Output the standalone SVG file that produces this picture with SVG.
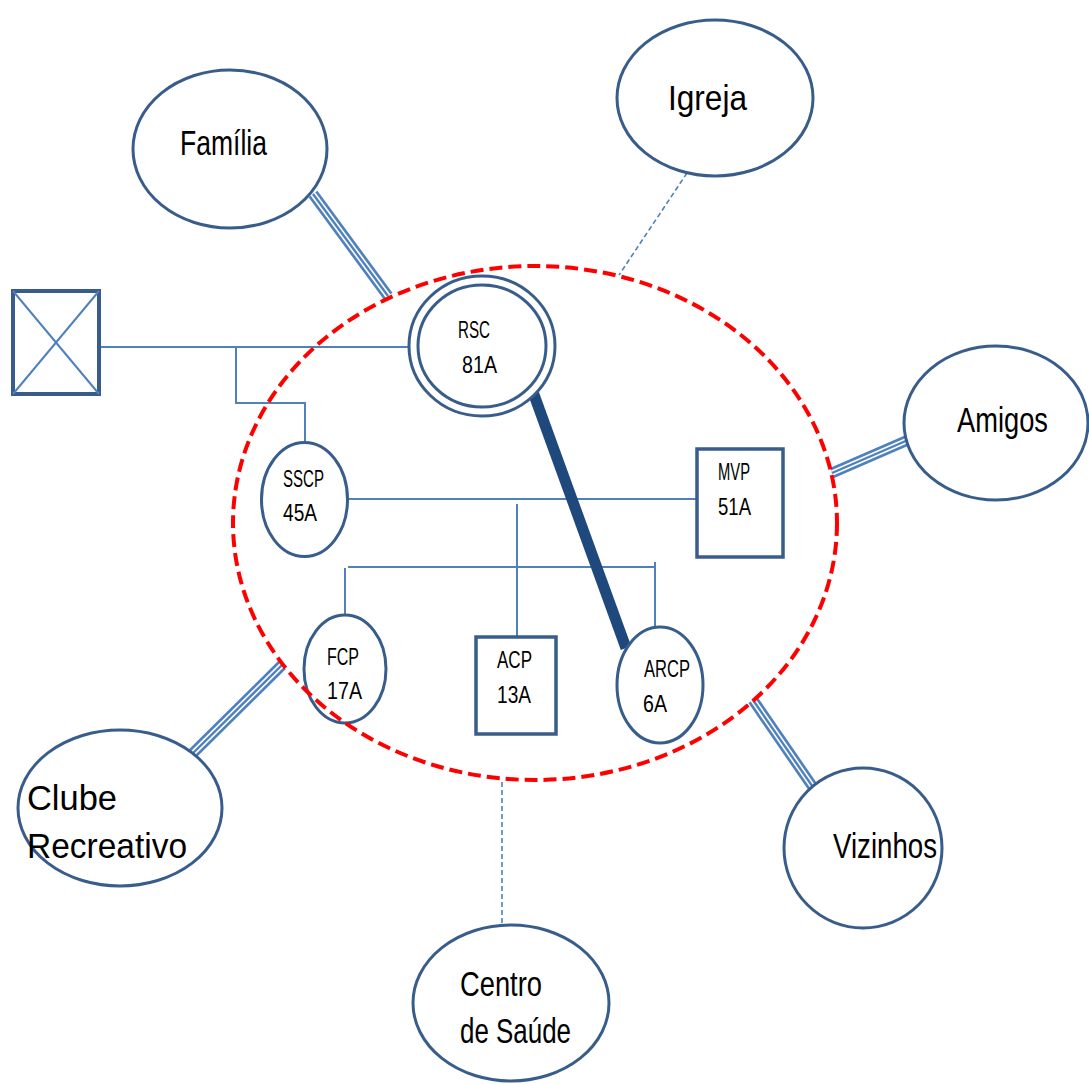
<svg xmlns="http://www.w3.org/2000/svg" width="1089" height="1084" viewBox="0 0 1089 1084">
<style>
.node{fill:#fff;stroke:#385d8a;stroke-width:3}
.box{fill:#fff;stroke:#385d8a;stroke-width:3.5}
.ln{fill:none;stroke:#4f81bd;stroke-width:2}
.dash{fill:none;stroke:#4f81bd;stroke-width:1.6;stroke-dasharray:5 3}
.t1{stroke:#4f81bd;stroke-width:11}
.t2{stroke:#fff;stroke-width:5.6}
.t3{stroke:#4f81bd;stroke-width:2.4}
.thick{stroke:#1f497d;stroke-width:11}
.bound{fill:none;stroke:#ff0000;stroke-width:4;stroke-dasharray:13 6}
text{font-family:"Liberation Sans",Arial,sans-serif;fill:#000}
.s{font-size:24px}
.b{font-size:35px}
</style>
<g id="connectors">
  <polyline class="ln" points="100,347 409,347"/>
  <polyline class="ln" points="236,347 236,403 305,403 305,443"/>
  <line class="ln" x1="348" y1="499" x2="697" y2="499"/>
  <line class="ln" x1="517" y1="504" x2="517" y2="637"/>
  <line class="ln" x1="348" y1="567" x2="655" y2="567"/>
  <line class="ln" x1="345" y1="568" x2="345" y2="615"/>
  <line class="ln" x1="655" y1="562" x2="655" y2="628"/>
  <line class="thick" x1="533" y1="392" x2="626" y2="648"/>
  <line class="dash" x1="687" y1="173" x2="619" y2="275"/>
  <line class="dash" x1="502" y1="782" x2="502" y2="925"/>
  <g>
    <line class="t1" x1="313" y1="194" x2="388" y2="296"/>
    <line class="t2" x1="313" y1="194" x2="388" y2="296"/>
    <line class="t3" x1="313" y1="194" x2="388" y2="296"/>
  </g>
  <g>
    <line class="t1" x1="832" y1="473" x2="908" y2="440"/>
    <line class="t2" x1="832" y1="473" x2="908" y2="440"/>
    <line class="t3" x1="832" y1="473" x2="908" y2="440"/>
  </g>
  <g>
    <line class="t1" x1="282" y1="665" x2="183" y2="763"/>
    <line class="t2" x1="282" y1="665" x2="183" y2="763"/>
    <line class="t3" x1="282" y1="665" x2="183" y2="763"/>
  </g>
  <g>
    <line class="t1" x1="753" y1="700" x2="817" y2="793"/>
    <line class="t2" x1="753" y1="700" x2="817" y2="793"/>
    <line class="t3" x1="753" y1="700" x2="817" y2="793"/>
  </g>
</g>
<g id="familia">
  <ellipse class="node" cx="230" cy="149" rx="97" ry="79"/>
  <text class="b" x="180" y="155" textLength="87" lengthAdjust="spacingAndGlyphs">Família</text>
</g>
<g id="igreja">
  <ellipse class="node" cx="715" cy="98" rx="98" ry="78"/>
  <text class="b" x="668" y="110" textLength="79" lengthAdjust="spacingAndGlyphs">Igreja</text>
</g>
<g id="amigos">
  <ellipse class="node" cx="996" cy="423" rx="92" ry="77"/>
  <text class="b" x="957" y="432" textLength="91" lengthAdjust="spacingAndGlyphs">Amigos</text>
</g>
<g id="vizinhos">
  <ellipse class="node" cx="863" cy="848" rx="79" ry="80"/>
  <text class="b" x="833" y="858" textLength="104" lengthAdjust="spacingAndGlyphs">Vizinhos</text>
</g>
<g id="centro">
  <ellipse class="node" cx="511" cy="1003" rx="98" ry="78"/>
  <text class="b" x="460" y="996" textLength="82" lengthAdjust="spacingAndGlyphs">Centro</text>
  <text class="b" x="460" y="1043" textLength="111" lengthAdjust="spacingAndGlyphs">de Saúde</text>
</g>
<g id="clube">
  <ellipse class="node" cx="120" cy="808" rx="102" ry="78"/>
  <text class="b" x="27" y="810" textLength="90" lengthAdjust="spacingAndGlyphs">Clube</text>
  <text class="b" x="27" y="858" textLength="160" lengthAdjust="spacingAndGlyphs">Recreativo</text>
</g>
<g id="pai">
  <rect x="13" y="291" width="86" height="103" fill="#fff" stroke="#385d8a" stroke-width="4"/>
  <line class="ln" x1="13" y1="291" x2="99" y2="394"/>
  <line class="ln" x1="99" y1="291" x2="13" y2="394"/>
</g>
<g id="rsc">
  <ellipse class="node" cx="482" cy="346" rx="73" ry="70"/>
  <ellipse class="node" cx="482" cy="346" rx="64" ry="61"/>
  <text class="s" x="458" y="338" textLength="32" lengthAdjust="spacingAndGlyphs">RSC</text>
  <text class="s" x="462" y="373" textLength="35" lengthAdjust="spacingAndGlyphs">81A</text>
</g>
<g id="sscp">
  <ellipse class="node" cx="304.5" cy="499.5" rx="43" ry="57"/>
  <text class="s" x="283" y="487" textLength="41" lengthAdjust="spacingAndGlyphs">SSCP</text>
  <text class="s" x="283" y="521" textLength="34" lengthAdjust="spacingAndGlyphs">45A</text>
</g>
<g id="mvp">
  <rect class="box" x="697" y="449" width="86" height="108"/>
  <text class="s" x="718" y="480" textLength="32" lengthAdjust="spacingAndGlyphs">MVP</text>
  <text class="s" x="718" y="515" textLength="33" lengthAdjust="spacingAndGlyphs">51A</text>
</g>
<g id="fcp">
  <ellipse class="node" cx="345" cy="669" rx="41" ry="54"/>
  <text class="s" x="327" y="665" textLength="32" lengthAdjust="spacingAndGlyphs">FCP</text>
  <text class="s" x="327" y="699" textLength="35" lengthAdjust="spacingAndGlyphs">17A</text>
</g>
<g id="acp">
  <rect class="box" x="476" y="637" width="80" height="97"/>
  <text class="s" x="497" y="668" textLength="35" lengthAdjust="spacingAndGlyphs">ACP</text>
  <text class="s" x="497" y="703" textLength="34" lengthAdjust="spacingAndGlyphs">13A</text>
</g>
<g id="arcp">
  <ellipse class="node" cx="660" cy="685" rx="43" ry="58"/>
  <text class="s" x="644" y="677" textLength="46" lengthAdjust="spacingAndGlyphs">ARCP</text>
  <text class="s" x="643" y="712" textLength="24" lengthAdjust="spacingAndGlyphs">6A</text>
</g>
<g id="boundary">
  <ellipse class="bound" cx="535" cy="523" rx="302" ry="257"/>
</g>
</svg>
